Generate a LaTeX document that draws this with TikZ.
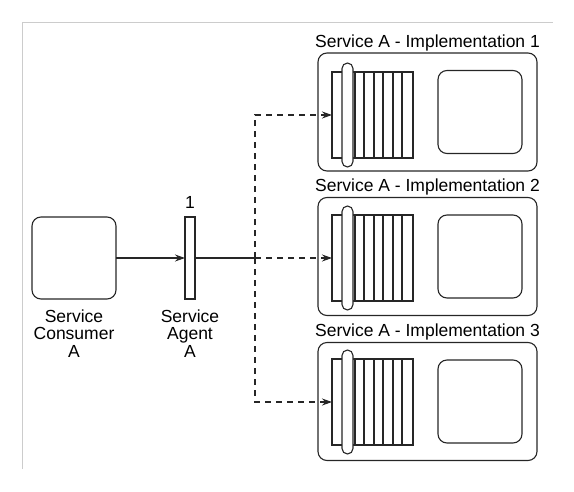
\documentclass[tikz,border=0pt]{standalone}
\usepackage{fontspec}
\setmainfont{Liberation Sans}
\usetikzlibrary{arrows.meta}
\begin{document}
\begin{tikzpicture}[x=1pt,y=-1pt]
\tikzstyle{every node}+=[inner sep=0pt, outer sep=0pt, font=\fontsize{17.5}{17.5}\selectfont]
\tikzstyle{outline}=[draw=black!85, line width=1.1pt]
\tikzstyle{rbox}=[outline, rounded corners=9pt]
\tikzstyle{queuebox}=[outline, fill=white, minimum width=81, minimum height=86]
\tikzstyle{pill}=[outline, fill=white, rounded corners=5.5pt, minimum width=11, minimum height=104]
\tikzstyle{flow}=[outline, -{Stealth[length=10pt,width=7pt]}]
\tikzstyle{dflow}=[flow, dash pattern=on 6pt off 5pt]
\tikzstyle{caption}=[align=center, anchor=base]
\useasboundingbox (0,0) rectangle (574,491);
\draw [black!20, line width=1pt] (22,469) -- (22,22) -- (553,22);
% consumer and agent
\node [rbox, minimum width=84, minimum height=82] (consumer) at (74,258) {};
\node [caption] (consumerlabel) at (74,357) {Service\\Consumer\\A};
\node [outline, minimum width=10, minimum height=82] (agent) at (190,258) {};
\node [anchor=base] (agentnum) at (190,208) {1};
\node [caption] (agentlabel) at (190,357) {Service\\Agent\\A};
% implementation 1
\node [rbox, minimum width=219, minimum height=118] (impl1) at (427.5,112) {};
\node [anchor=base] (title1) at ([yshift=6pt]impl1.north) {Service A - Implementation 1};
\node [queuebox] (queue1) at (372.5,115) {};
\draw [outline] (queue1.north west) ++(23,0) -- ++(0,86) ++(9,-86) -- ++(0,86) ++(10,-86) -- ++(0,86)
  ++(9,-86) -- ++(0,86) ++(10,-86) -- ++(0,86) ++(9,-86) -- ++(0,86);
\node [pill] (pill1) at (347.5,115) {};
\node [rbox, minimum width=84, minimum height=83] (core1) at (480,112) {};
% implementation 2
\node [rbox, minimum width=219, minimum height=118] (impl2) at (427.5,256.5) {};
\node [anchor=base] (title2) at ([yshift=6pt]impl2.north) {Service A - Implementation 2};
\node [queuebox] (queue2) at (372.5,258) {};
\draw [outline] (queue2.north west) ++(23,0) -- ++(0,86) ++(9,-86) -- ++(0,86) ++(10,-86) -- ++(0,86)
  ++(9,-86) -- ++(0,86) ++(10,-86) -- ++(0,86) ++(9,-86) -- ++(0,86);
\node [pill] (pill2) at (347.5,258) {};
\node [rbox, minimum width=84, minimum height=83] (core2) at (480,256.5) {};
% implementation 3
\node [rbox, minimum width=219, minimum height=118] (impl3) at (427.5,401.5) {};
\node [anchor=base] (title3) at ([yshift=6pt]impl3.north) {Service A - Implementation 3};
\node [queuebox] (queue3) at (372.5,402) {};
\draw [outline] (queue3.north west) ++(23,0) -- ++(0,86) ++(9,-86) -- ++(0,86) ++(10,-86) -- ++(0,86)
  ++(9,-86) -- ++(0,86) ++(10,-86) -- ++(0,86) ++(9,-86) -- ++(0,86);
\node [pill] (pill3) at (347.5,402) {};
\node [rbox, minimum width=84, minimum height=83] (core3) at (480,401.5) {};
% connectors
\coordinate (split) at (255,258);
\draw [flow] (consumer) -- (agent);
\draw [outline] (agent) -- (split);
\draw [dflow] (split) |- (queue1.west);
\draw [dflow] (split) -- (queue2.west);
\draw [dflow] (split) |- (queue3.west);
\end{tikzpicture}
\end{document}
